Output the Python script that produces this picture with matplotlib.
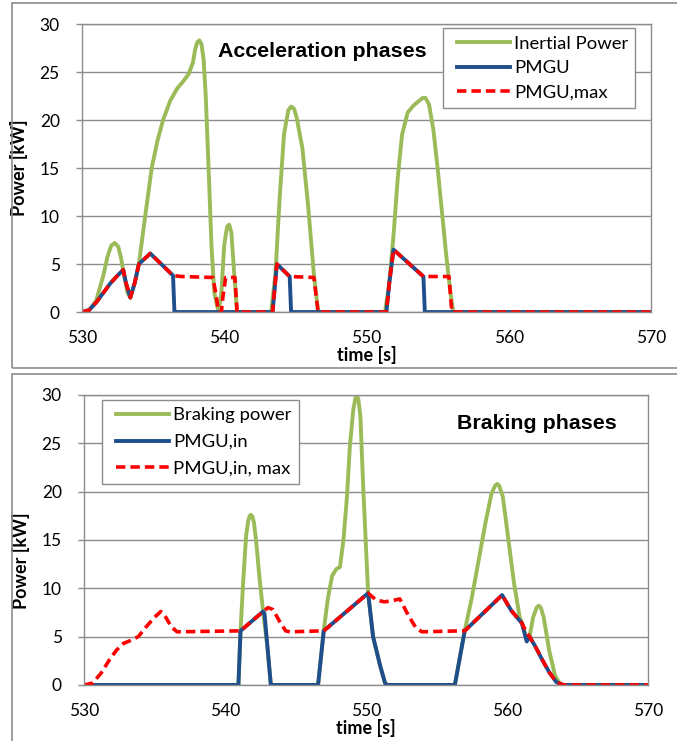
import matplotlib
matplotlib.use("Agg")
import matplotlib.pyplot as plt
from matplotlib.patches import Rectangle
from matplotlib.legend_handler import HandlerLine2D

# ---- acceleration phases ----
acc_green_t = [530, 530.5, 531.0, 531.5, 531.8, 532.05, 532.3, 532.55, 532.75, 532.9, 533.2,
               533.4, 533.7, 534.0, 534.4, 534.9, 535.3, 535.7, 536.2, 536.7, 537.1, 537.5,
               537.8, 537.95, 538.1, 538.25, 538.4, 538.55, 538.7, 538.9, 539.1, 539.3, 539.6,
               539.8, 540.0, 540.2, 540.35, 540.5, 540.7, 540.9, 543.3, 543.6, 543.9, 544.2,
               544.5, 544.7, 544.9, 545.1, 545.5, 545.9, 546.3, 546.6, 551.3, 551.6, 551.9,
               552.2, 552.5, 552.9, 553.3, 553.7, 553.95, 554.15, 554.4, 554.7, 555.0, 555.3,
               555.6, 555.9, 556.1, 570]
acc_green_p = [0, 0.2, 1.2, 3.8, 5.8, 6.9, 7.2, 6.8, 5.6, 4.3, 2.0,
               1.5, 3.0, 5.0, 9.5, 15.0, 17.8, 20.0, 22.0, 23.3, 24.0, 24.8,
               26.0, 27.3, 28.1, 28.3, 27.9, 26.3, 22.5, 15.0, 7.0, 2.0, 0.0,
               2.0, 7.0, 8.9, 9.1, 8.3, 4.0, 0, 0, 4.0, 12.0, 18.5,
               21.0, 21.4, 21.2, 20.2, 17.0, 11.0, 4.0, 0, 0, 3.0, 8.0,
               14.0, 18.5, 20.8, 21.5, 22.0, 22.3, 22.3, 21.6, 19.0, 15.0, 10.5,
               6.0, 2.0, 0, 0]

acc_blue_t = [530, 530.5, 531.0, 531.5, 532.0, 532.5, 532.9, 533.1, 533.4, 533.7, 534.0, 534.8,
              536.4, 536.5, 543.4, 543.55, 543.7, 544.6, 544.7, 551.4, 551.6, 551.9, 554.0,
              554.1, 570]
acc_blue_p = [0, 0.2, 1.0, 2.0, 3.0, 3.8, 4.4, 3.0, 1.5, 3.0, 5.0, 6.1,
              3.8, 0, 0, 2.5, 5.0, 3.7, 0, 0, 3.0, 6.5, 3.7,
              0, 0]

acc_red_t = [530, 530.5, 531.0, 531.5, 532.0, 532.5, 532.9, 533.1, 533.4, 533.7, 534.0, 534.8,
             536.4, 537.0, 539.2, 539.4, 539.6, 539.8, 539.9, 540.1, 540.75, 540.9, 543.4,
             543.55, 543.7, 544.6, 546.3, 546.6, 551.4, 551.6, 551.9, 554.0, 555.8, 556.0, 570]
acc_red_p = [0, 0.2, 1.0, 2.0, 3.0, 3.8, 4.4, 3.0, 1.5, 3.0, 5.0, 6.1,
             3.8, 3.7, 3.6, 2.0, 0, 0, 1.5, 3.6, 3.6, 0, 0,
             2.5, 5.0, 3.7, 3.6, 0, 0, 3.0, 6.5, 3.7, 3.7, 0, 0]

# ---- braking phases ----
brk_green_t = [530, 540.95, 541.1, 541.3, 541.5, 541.65, 541.75, 541.85, 541.95, 542.05, 542.2,
               542.45, 542.7, 543.0, 543.25, 546.6, 547.0, 547.3, 547.6, 547.9, 548.15, 548.4,
               548.65, 548.85, 549.1, 549.25, 549.35, 549.45, 549.6, 549.8, 550.07, 550.15,
               550.5, 551.0, 551.35, 551.5, 556.3, 557.0, 557.5, 558.0, 558.5, 558.9, 559.15,
               559.3, 559.45, 559.7, 560.1, 560.5, 560.9, 561.1, 561.4, 561.6, 561.85, 562.1,
               562.25, 562.4, 562.6, 563.0, 563.4, 563.8, 570]
brk_green_p = [0, 0, 5.6, 11.0, 15.5, 17.0, 17.5, 17.6, 17.4, 16.8, 15.0,
               11.0, 7.6, 4.0, 0, 0, 5.6, 9.0, 11.3, 12.0, 12.2, 15.0,
               19.5, 24.6, 28.5, 29.7, 29.9, 29.6, 27.8, 20.5, 12.0, 9.5,
               5.0, 2.0, 0.2, 0, 0, 5.6, 9.0, 13.0, 17.0, 19.8, 20.6,
               20.8, 20.6, 19.5, 15.0, 10.5, 7.0, 6.3, 4.6, 5.0, 7.0, 8.0,
               8.2, 8.0, 7.0, 3.5, 1.0, 0, 0]

brk_blue_t = [530, 540.95, 541.1, 542.7, 542.8, 543.25, 546.6, 547.0, 550.15, 550.5, 551.0,
              551.35, 551.5, 556.3, 557.0, 559.65, 560.3, 561.05, 561.4, 561.6, 562.0, 562.5,
              563.0, 563.5, 564.0, 570]
brk_blue_p = [0, 0, 5.6, 7.6, 7.4, 0, 0, 5.6, 9.5, 5.0, 2.0,
              0.2, 0, 0, 5.6, 9.3, 7.7, 6.4, 4.5, 5.0, 4.0, 2.6,
              1.3, 0.3, 0, 0]

brk_red_t = [530, 530.6, 531.2, 531.8, 532.3, 532.8, 533.3, 533.85, 534.4, 535.0, 535.45,
             535.8, 536.2, 536.6, 541.1, 542.7, 543.05, 543.4, 543.9, 544.3, 544.6, 547.0,
             550.15, 550.7, 551.3, 551.8, 552.4, 553.0, 553.5, 553.95, 556.8, 557.0, 559.65,
             560.3, 561.05, 561.4, 561.6, 562.0, 562.5, 563.0, 563.5, 564.0, 570]
brk_red_p = [0, 0.2, 1.2, 2.6, 3.6, 4.3, 4.6, 5.0, 6.0, 7.0, 7.6,
             7.0, 6.0, 5.5, 5.6, 7.6, 8.0, 7.8, 6.5, 5.6, 5.5, 5.6,
             9.5, 8.8, 8.6, 8.7, 8.9, 7.2, 6.0, 5.5, 5.6, 5.6, 9.3,
             7.7, 6.4, 5.4, 5.0, 4.0, 2.6, 1.3, 0.3, 0, 0]

x_ticks = [530, 540, 550, 560, 570]
y_ticks = [0, 5, 10, 15, 20, 25, 30]

GREEN = "#9bbb59"
BLUE = "#1f4e8c"
RED = "#ff0000"
GRID = "#8c8c8c"


class PadHandler(HandlerLine2D):
    # legend line starts a bit inside the handle box, like Excel
    def get_xdata(self, legend, xdescent, ydescent, width, height, fontsize):
        xd, xm = super().get_xdata(legend, xdescent, ydescent, width, height, fontsize)
        return [-xdescent + 5, -xdescent + width], xm


plt.rcParams["font.family"] = ["Lato", "DejaVu Sans"]

fig = plt.figure(figsize=(6.77, 7.41), dpi=100)
ax1 = fig.add_axes([0.1211, 0.5789, 0.8405, 0.3887])
ax2 = fig.add_axes([0.1241, 0.0756, 0.8331, 0.3914])

# outer boxes around each panel
fig.add_artist(Rectangle((12 / 677, 1 - 368 / 741), 1.0, 365 / 741, transform=fig.transFigure,
                         fill=False, edgecolor=GRID, lw=1.2))
fig.add_artist(Rectangle((12 / 677, -0.05), 1.0, 0.05 + 367 / 741, transform=fig.transFigure,
                         fill=False, edgecolor=GRID, lw=1.2))

panels = [
    (ax1, acc_green_t, acc_green_p, acc_blue_t, acc_blue_p, acc_red_t, acc_red_p,
     ["Inertial Power", "PMGU", "PMGU,max"], "Acceleration phases", (0.422, 0.903),
     (0.634, 0.985), 0.45, -0.095, 0.5, -0.149),
    (ax2, brk_green_t, brk_green_p, brk_blue_t, brk_blue_p, brk_red_t, brk_red_p,
     ["Braking power", "PMGU,in", "PMGU,in, max"], "Braking phases", (0.803, 0.903),
     (0.032, 0.983), 0.58, -0.096, 0.428, -0.148),
]

for (ax, gt, gp, bt, bp, rt, rp, labels, title, tpos, lpos, lspace, ylx, yly, xly) in panels:
    ax.plot(gt, gp, color=GREEN, lw=2.8, label=labels[0], solid_joinstyle="round")
    ax.plot(bt, bp, color=BLUE, lw=2.8, label=labels[1], solid_joinstyle="round")
    ax.plot(rt, rp, color=RED, lw=2.6, ls=(0, (2.6, 1.4)), label=labels[2])
    ax.set_xlim(530, 570)
    ax.set_ylim(0, 30)
    ax.set_xticks(x_ticks)
    ax.set_yticks(y_ticks)
    ax.grid(axis="y", color=GRID, lw=1)
    ax.set_axisbelow(True)
    for s in ax.spines.values():
        s.set_color(GRID)
        s.set_linewidth(1)
    ax.tick_params(axis="both", colors=GRID, labelcolor="black", labelsize=12.5, width=1)
    ax.tick_params(axis="y", length=4, pad=12)
    ax.tick_params(axis="x", length=0, pad=13)
    ax.set_ylabel("Power [kW]", fontsize=13, fontweight="bold")
    ax.yaxis.set_label_coords(ylx, yly)
    ax.text(0.5, xly, "time [s]", transform=ax.transAxes, ha="center", va="center",
            fontsize=13, fontweight="bold")
    ax.text(tpos[0], tpos[1], title, transform=ax.transAxes, ha="center", va="center",
            fontsize=15.4, fontweight="bold", family="Liberation Sans")
    leg = ax.legend(loc="upper left", bbox_to_anchor=lpos, fontsize=13.3, frameon=True,
                    fancybox=False, handlelength=3.25, handletextpad=0.2, labelspacing=lspace,
                    borderpad=0.4, borderaxespad=0,
                    handler_map={l: PadHandler() for l in ax.get_lines()})
    leg.get_frame().set_edgecolor(GRID)
    leg.get_frame().set_linewidth(1)
    leg.get_frame().set_alpha(1)

fig.savefig("out.png", dpi=100)
